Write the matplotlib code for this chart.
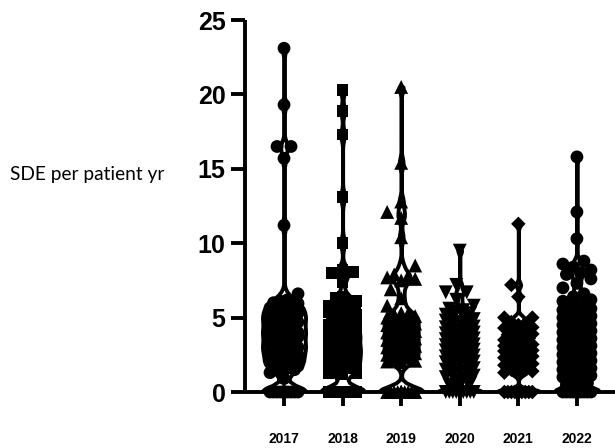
import numpy as np
import matplotlib
matplotlib.use("Agg")
import matplotlib.pyplot as plt

years = ["2017", "2018", "2019", "2020", "2021", "2022"]

sde_2017 = [0]*14 + [0.9, 1.3,
    1.5, 1.6, 1.7, 1.8, 1.9, 2.0, 2.1, 2.2, 2.3, 2.4, 2.5, 2.6, 2.7, 2.8, 2.9,
    3.0, 3.0, 3.1, 3.2, 3.3, 3.4, 3.5, 3.6, 3.7, 3.8, 3.9, 4.0, 4.0, 4.1, 4.2,
    4.3, 4.4, 4.5, 4.6, 4.7, 4.8, 4.9, 5.0, 5.0, 5.1, 5.2, 5.3, 5.4, 5.5, 5.6,
    5.7, 5.8, 5.9, 6.0, 6.1, 6.2,
    1.55, 1.75, 2.05, 2.35, 2.65, 2.95, 3.25, 3.55, 3.85, 4.15, 4.45, 4.75,
    5.05, 5.35, 5.65, 5.95,
    6.6, 11.2, 15.7, 16.5, 16.5, 19.3, 23.1]
sde_2018 = [0]*12 + [
    1.2, 1.3, 1.5, 1.6, 1.8, 1.9, 2.0, 2.2, 2.3, 2.5, 2.6, 2.8, 2.9, 3.0, 3.1,
    3.3, 3.5, 3.6, 3.8, 3.9, 4.0, 4.1, 4.3, 4.5, 4.8, 4.9, 5.0, 5.2, 5.4, 5.5,
    5.6, 5.8, 5.9, 6.1, 6.3, 6.4,
    1.25, 1.7, 2.1, 2.4, 2.7, 3.05, 3.4, 3.7, 4.05, 4.4, 4.95, 5.3, 5.7, 6.0,
    7.4, 8.0, 8.05, 8.2, 10.0, 13.1, 17.3, 18.9, 20.3]
sde_2019 = [0]*12 + [
    2.0, 2.2, 2.3, 2.5, 2.7, 2.9, 3.0, 3.2, 3.4, 3.5, 3.7, 3.9, 4.0, 4.2, 4.3,
    4.5, 4.6, 4.8, 5.0, 5.2, 5.3,
    2.1, 2.6, 3.1, 3.6, 4.1, 4.7, 5.1,
    2.05, 2.4, 2.8, 3.3, 3.8, 4.4, 4.9, 5.25,
    5.8, 6.3, 6.9, 7.5, 7.6, 7.7, 7.8, 7.9, 8.5, 10.4, 11.7, 12.1, 12.8,
    15.4, 20.5]
sde_2020 = [0]*12 + [
    0.4, 0.6, 0.8, 1.0, 1.1, 1.3, 1.4, 1.6, 1.7, 1.9, 2.0, 2.1, 2.3, 2.4, 2.5,
    2.7, 2.8, 2.9, 3.0, 3.1, 3.2, 3.4, 3.5, 3.6, 3.7, 3.9, 4.0, 4.1, 4.3, 4.4,
    4.6, 4.8, 4.9, 5.1, 5.3, 5.5, 5.8,
    1.2, 1.8, 2.2, 2.6, 3.3, 3.8, 4.2, 4.7, 5.2,
    0.5, 0.9, 1.5, 2.05, 2.45, 2.85, 3.15, 3.55, 3.95, 4.35, 4.75, 5.0, 5.4,
    5.6,
    6.2, 6.7, 6.7, 7.2, 9.5]
sde_2021 = [0]*10 + [
    1.2, 1.4, 1.5, 1.7, 1.9, 2.0, 2.2, 2.3, 2.5, 2.6, 2.8, 2.9, 3.0, 3.2, 3.3,
    3.5, 3.6, 3.8, 3.9, 4.1, 4.3, 4.5,
    1.6, 2.1, 2.7, 3.1, 3.7, 4.2,
    1.3, 1.8, 2.4, 2.75, 3.05, 3.4, 3.85, 4.0, 4.35, 4.6,
    4.7, 5.0, 5.0, 6.4, 7.2, 11.3]
sde_2022 = [0]*14 + [
    0.4, 0.6, 0.8, 1.0, 1.1, 1.2, 1.4, 1.5, 1.6, 1.8, 1.9, 2.0, 2.1, 2.2, 2.4,
    2.5, 2.6, 2.7, 2.8, 3.0, 3.1, 3.2, 3.3, 3.4, 3.5, 3.6, 3.8, 3.9, 4.0, 4.1,
    4.2, 4.3, 4.5, 4.6, 4.7, 4.9, 5.0, 5.1, 5.2, 5.4, 5.5, 5.6, 5.8, 6.0, 6.2,
    6.4, 6.6,
    0.5, 0.9, 1.3, 1.7, 2.3, 2.9, 3.7, 4.4, 4.8, 5.3, 5.7, 6.1,
    7.0, 7.3, 7.6, 7.9, 8.0, 8.2, 8.4, 8.6, 8.8, 10.3, 12.1, 15.8]

groups = [sde_2017, sde_2018, sde_2019, sde_2020, sde_2021, sde_2022]
markers = ["o", "s", "^", "v", "D", "o"]
msizes = [85, 72, 100, 100, 55, 85]

y_ticks = [0, 5, 10, 15, 20, 25]
y_label = "SDE per patient yr"

W_PX, H_PX = 615, 448
fig = plt.figure(figsize=(W_PX / 100, H_PX / 100), dpi=100)
ax_left, ax_bottom = 245 / W_PX, (H_PX - 392) / H_PX
ax_w, ax_h = 1.0 - ax_left, (392 - 20) / H_PX
ax = fig.add_axes([ax_left, ax_bottom, ax_w, ax_h])

positions = np.arange(len(years))
xlim = (-0.666, 5.65)
ylim = (0, 25)
ax.set_xlim(*xlim)
ax.set_ylim(*ylim)

ppu_x = ax_w * W_PX / (xlim[1] - xlim[0])
ppu_y = ax_h * H_PX / (ylim[1] - ylim[0])


def swarm(vals, D=12.5):
    vals = np.asarray(vals, float)
    order = np.argsort(vals, kind="stable")
    placed = []
    offs = np.zeros(len(vals))
    cands = [0, -3.5, 3.5, -7, 7, -10.5, 10.5, -14, 14]
    for i in order:
        y = vals[i] * ppu_y
        best, bestd = 0, -1
        for c in cands:
            near = [np.hypot(c - px, y - py) for px, py in placed if abs(y - py) < D]
            dmin = min(near) if near else np.inf
            if dmin >= D:
                best = c
                break
            if dmin > bestd:
                bestd, best = dmin, c
        offs[i] = best
        placed.append((best, y))
    return offs / ppu_x


vp = ax.violinplot(groups, positions=positions, widths=0.78, showextrema=False,
                   bw_method=0.09)
for body in vp["bodies"]:
    body.set_facecolor("white")
    body.set_edgecolor("black")
    body.set_linewidth(2.8)
    body.set_alpha(1)
    body.set_zorder(2)

for pos, vals, mk, ms in zip(positions, groups, markers, msizes):
    xo = swarm(vals)
    ax.scatter(pos + xo, vals, marker=mk, s=ms, color="black", edgecolors="none",
               zorder=3, clip_on=False)

for s in ["top", "right"]:
    ax.spines[s].set_visible(False)
for s in ["left", "bottom"]:
    ax.spines[s].set_linewidth(2.8)
    ax.spines[s].set_capstyle("butt")

ax.set_yticks(y_ticks)
ax.set_yticklabels([str(t) for t in y_ticks], fontfamily="Liberation Sans",
                   fontweight="bold", fontsize=18)
ax.set_xticks(positions)
ax.set_xticklabels(years, fontfamily="Liberation Sans", fontweight="bold",
                   fontsize=10)
ax.tick_params(axis="y", length=10, width=2.8, pad=4)
ax.tick_params(axis="x", length=10, width=2.8, pad=19)

fig.text(10 / W_PX, 1 - 174 / H_PX, y_label, fontfamily="Lato", fontsize=13.8,
         ha="left", va="center")

fig.savefig("out.png", dpi=100)
